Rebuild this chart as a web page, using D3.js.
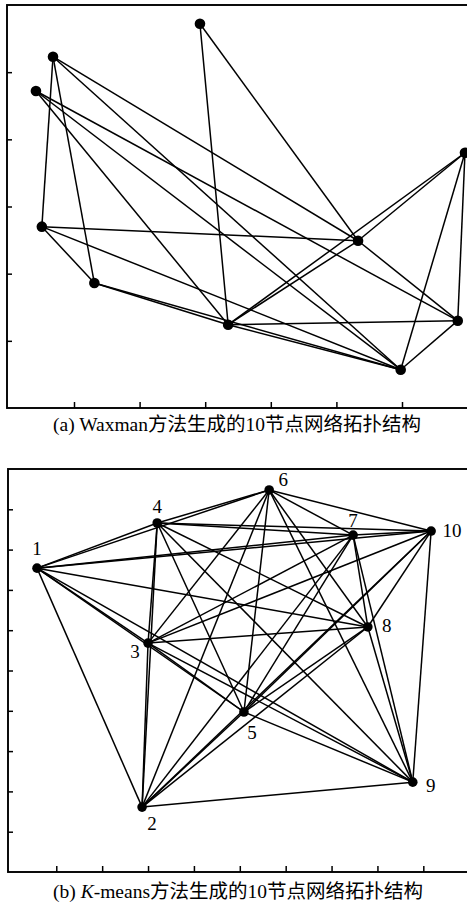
<!DOCTYPE html>
<html>
<head>
<meta charset="utf-8">
<script src="https://cdn.jsdelivr.net/npm/d3@7"></script>
<style>
  body { margin: 0; background: #fff; }
  svg { display: block; }
  .edge { stroke: #000; stroke-width: 1.5; fill: none; }
  .node { fill: #000; }
  .frame { fill: none; stroke: #000; stroke-width: 1.9; }
  .axis path { display: none; }
  .axis line { stroke: #000; stroke-width: 1.5; }
  .lbl { font-family: "Liberation Serif", serif; font-size: 19px; fill: #000; }
  .cap { font-family: "Liberation Serif", "Noto Sans CJK SC", serif; font-size: 19.5px; fill: #000; }
</style>
</head>
<body>
<div id="container"></div>
<script>
// Width and height
let w = 467;
let h = 908;

// (a) Waxman graph: node positions (axis units) and links
let waxNames = ["A", "B", "C", "D", "E", "F", "G", "H", "I", "J"];
let waxX = [2.92, 0.68, 0.42, 0.51, 1.31, 3.35, 5.33, 6.96, 6.85, 5.98];
let waxY = [5.72, 5.23, 4.72, 2.70, 1.86, 1.24, 2.49, 3.80, 1.30, 0.57];
let waxLinks = [
  ["A", "F"], ["A", "G"], ["B", "D"], ["B", "E"], ["B", "G"], ["B", "J"],
  ["C", "F"], ["C", "J"], ["C", "I"], ["D", "E"], ["D", "G"], ["D", "J"],
  ["E", "F"], ["E", "J"], ["F", "G"], ["F", "H"], ["F", "I"], ["F", "J"],
  ["G", "H"], ["G", "I"], ["H", "I"], ["H", "J"], ["I", "J"]
];

// (b) K-means graph: node positions, every pair is linked
let kmNames = ["1", "2", "3", "4", "5", "6", "7", "8", "9", "10"];
let kmX = [0.58, 2.87, 3.00, 3.20, 5.09, 5.64, 7.47, 7.79, 8.77, 9.17];
let kmY = [7.54, 1.61, 5.68, 8.66, 3.97, 9.48, 8.36, 6.08, 2.23, 8.46];

// tick values (no tick labels on either panel)
let waxXTicks = [1, 2, 3, 4, 5, 6];
let waxYTicks = [1, 2, 3, 4, 5];
let kmXTicks = [1, 2, 3, 4, 5, 6, 7, 8, 9];
let kmYTicks = [1, 2, 3, 4, 5, 6, 7, 8, 9];

let capA = "(a) Waxman方法生成的10节点网络拓扑结构";
let capB = ["(b) ", "K", "-means方法生成的10节点网络拓扑结构"];

// where each number label sits next to its node
let kmLabelOff = {
  "1": [0, -13], "2": [10, 23], "3": [-13, 15], "4": [0, -10], "5": [8, 27],
  "6": [14, -4], "7": [0, -8], "8": [19, 5], "9": [18, 10], "10": [21, 6]
};

let svg = d3.select("#container")
  .append("svg")
  .attr("width", w)
  .attr("height", h);

function drawPanel(opt) {
  let g = svg.append("g");
  let x = d3.scaleLinear().domain(opt.xDom).range(opt.xRange);
  let y = d3.scaleLinear().domain(opt.yDom).range(opt.yRange);

  g.append("rect")
    .attr("class", "frame")
    .attr("x", opt.frame[0])
    .attr("y", opt.frame[1])
    .attr("width", opt.frame[2] - opt.frame[0])
    .attr("height", opt.frame[3] - opt.frame[1]);

  // inward ticks
  g.append("g")
    .attr("class", "axis")
    .attr("transform", "translate(0," + opt.frame[3] + ")")
    .call(d3.axisBottom(x).tickValues(opt.xTicks).tickFormat("").tickSizeInner(-6).tickSizeOuter(0));
  g.append("g")
    .attr("class", "axis")
    .attr("transform", "translate(" + opt.frame[0] + ",0)")
    .call(d3.axisLeft(y).tickValues(opt.yTicks).tickFormat("").tickSizeInner(-5).tickSizeOuter(0));

  let pos = {};
  opt.names.forEach(function(n, i) { pos[n] = [x(opt.xs[i]), y(opt.ys[i])]; });

  g.selectAll(".edge")
    .data(opt.links)
    .enter()
    .append("line")
      .attr("class", "edge")
      .attr("x1", d => pos[d[0]][0])
      .attr("y1", d => pos[d[0]][1])
      .attr("x2", d => pos[d[1]][0])
      .attr("y2", d => pos[d[1]][1]);

  g.selectAll(".node")
    .data(opt.names)
    .enter()
    .append("circle")
      .attr("class", "node")
      .attr("cx", d => pos[d][0])
      .attr("cy", d => pos[d][1])
      .attr("r", opt.r);

  return {g: g, pos: pos};
}

// panel (a)
drawPanel({
  names: waxNames, xs: waxX, ys: waxY, links: waxLinks,
  xDom: [0, 7], xRange: [8.4, 467.6],
  yDom: [0, 6], yRange: [408, 5],
  frame: [7, 5, 469, 408],
  xTicks: waxXTicks, yTicks: waxYTicks, r: 5.3
});

// panel (b): complete graph
let kmLinks = [];
for (let i = 0; i < kmNames.length; i++) {
  for (let j = i + 1; j < kmNames.length; j++) {
    kmLinks.push([kmNames[i], kmNames[j]]);
  }
}
let pb = drawPanel({
  names: kmNames, xs: kmX, ys: kmY, links: kmLinks,
  xDom: [0, 10], xRange: [10.4, 469.2],
  yDom: [0, 10], yRange: [872, 469],
  frame: [8, 469, 470, 872],
  xTicks: kmXTicks, yTicks: kmYTicks, r: 4.8
});

pb.g.selectAll(".lbl")
  .data(kmNames)
  .enter()
  .append("text")
    .attr("class", "lbl")
    .attr("text-anchor", "middle")
    .attr("x", d => pb.pos[d][0] + kmLabelOff[d][0])
    .attr("y", d => pb.pos[d][1] + kmLabelOff[d][1])
    .text(d => d);

// captions
svg.append("text")
  .attr("class", "cap")
  .attr("text-anchor", "middle")
  .attr("x", 237)
  .attr("y", 431)
  .text(capA);

let tb = svg.append("text")
  .attr("class", "cap")
  .attr("text-anchor", "middle")
  .attr("x", 238)
  .attr("y", 898);
tb.append("tspan").text(capB[0]);
tb.append("tspan").attr("font-style", "italic").text(capB[1]);
tb.append("tspan").text(capB[2]);
</script>
</body>
</html>
